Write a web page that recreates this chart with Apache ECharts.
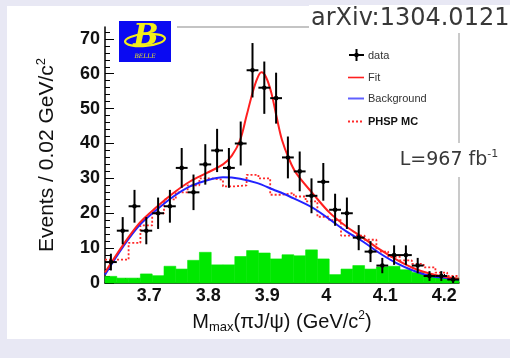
<!DOCTYPE html>
<html>
<head>
<meta charset="utf-8">
<script src="https://cdn.jsdelivr.net/npm/echarts@6/dist/echarts.min.js"></script>
<style>
  html, body { margin: 0; padding: 0; background: #e8e8f4; }
  #panel { position: absolute; left: 7px; top: 6px; width: 503px; height: 333px; background: #fff; }
  #chart { position: absolute; left: 0; top: 0; width: 510px; height: 358px; }
</style>
</head>
<body>
<div id="panel"></div>
<div id="chart"></div>
<script>
// bin width of the histogram (GeV/c^2)
const binWidth = 0.02

const binCenters = [3.635, 3.655, 3.675, 3.695, 3.715, 3.735, 3.755, 3.775, 3.795, 3.815,
  3.835, 3.855, 3.875, 3.895, 3.915, 3.935, 3.955, 3.975, 3.995, 4.015,
  4.035, 4.055, 4.075, 4.095, 4.115, 4.135, 4.155, 4.175, 4.195, 4.215]

const dataCounts = [6, 15, 22, 15, 20, 22, 33, 26, 34, 38,
  33, 40, 61, 56, 53, 36, 32, 25, 29, 21,
  20, 13, 9, 5, 8, 8, 5, 2, 2, 1]

const dataErrors = [2.4, 3.9, 4.7, 3.9, 4.5, 4.7, 5.7, 5.1, 5.8, 6.2,
  5.7, 6.3, 7.8, 7.5, 7.3, 6.0, 5.7, 5.0, 5.4, 4.6,
  4.5, 3.6, 3.0, 2.2, 2.8, 2.8, 2.2, 1.4, 1.4, 1.0]

// green filled histogram (sideband)
const sidebandCounts = [1.9, 1.4, 1.4, 2.6, 2.1, 4.8, 4.0, 6.5, 8.8, 5.2,
  5.2, 7.6, 9.3, 8.6, 6.9, 8.1, 7.8, 9.5, 6.9, 2.4,
  4.0, 5.0, 4.0, 4.6, 4.8, 3.8, 3.0, 2.4, 1.9, 1.4]

// dotted red histogram
const phspCounts = [6.7, 6.7, 11.5, 16.5, 20, 24, 26, 28, 30, 29.6,
  27.7, 28, 31, 30, 25.3, 25.8, 24.8, 23.4, 19, 18,
  13.6, 13.6, 12.4, 9, 7.5, 6.5, 5.5, 4.5, 3, 2]

const fitX = [3.625, 3.656, 3.684, 3.7125, 3.741, 3.769, 3.797, 3.825, 3.840, 3.854,
  3.865, 3.875, 3.883, 3.890, 3.898, 3.907, 3.916, 3.925, 3.937, 3.949,
  3.978, 4.006, 4.034, 4.062, 4.090, 4.119, 4.147, 4.175, 4.203, 4.225]
const fitY = [3.0, 11, 17.3, 21.8, 25.8, 29.1, 31.5, 34.0, 36.5, 41,
  48, 54.5, 58.6, 60.4, 59, 54.5, 47.5, 41, 35.5, 31.5,
  25.5, 20.1, 16.2, 13.0, 9.7, 6.7, 4.3, 2.7, 1.7, 1.2]

const bkgX = [3.625, 3.656, 3.684, 3.7125, 3.741, 3.769, 3.797, 3.825, 3.854, 3.882,
  3.910, 3.938, 3.978, 4.006, 4.034, 4.062, 4.090, 4.119, 4.147, 4.175,
  4.203, 4.225]
const bkgY = [2.4, 10.5, 16.7, 21, 24.8, 27.7, 29.4, 30.3, 29.9, 28.7,
  26.8, 24.8, 21.5, 18.2, 14.8, 11.9, 8.6, 5.7, 3.6, 2.1,
  1.4, 1.0]

const xTickLabels = [3.7, 3.8, 3.9, 4.0, 4.1, 4.2]
const yTickLabels = [0, 10, 20, 30, 40, 50, 60, 70]
const xMinorTicks = Array.from({ length: 30 }, (_, i) => +(3.64 + i * 0.02).toFixed(2))
const yMinorTicks = Array.from({ length: 37 }, (_, i) => i * 2)

const xMin = 3.625
const xMax = 4.225
const yMax = 73.4

const half = binWidth / 2
const font = 'Liberation Sans'

const chart = echarts.init(document.getElementById('chart'), null, { renderer: 'canvas' })

function renderPoint(params, api) {
  const x = api.value(0)
  const y = api.value(1)
  const e = api.value(2)
  const c = api.coord([x, y])
  const t = api.coord([x, y + e])
  const b = api.coord([x, Math.max(0, y - e)])
  const l = api.coord([x - half, y])
  const r = api.coord([x + half, y])
  const style = { stroke: '#000', lineWidth: 2 }
  return {
    type: 'group',
    children: [
      { type: 'line', shape: { x1: c[0], y1: t[1], x2: c[0], y2: b[1] }, style },
      { type: 'line', shape: { x1: l[0], y1: c[1], x2: r[0], y2: c[1] }, style },
      { type: 'circle', shape: { cx: c[0], cy: c[1], r: 2.3 }, style: { fill: '#000' } }
    ]
  }
}

function renderBin(params, api) {
  const x = api.value(0)
  const v = api.value(1)
  const p0 = api.coord([x - half, v])
  const p1 = api.coord([x + half, 0])
  return {
    type: 'rect',
    shape: { x: p0[0], y: p0[1], width: p1[0] - p0[0], height: p1[1] - p0[1] },
    style: { fill: '#00e800', stroke: '#00e800', lineWidth: 0.6 }
  }
}

// step histogram: left edge of each bin, plus closing right edge
const phspSteps = binCenters.map((x, i) => [x - half, phspCounts[i]])
phspSteps.push([binCenters[binCenters.length - 1] + half, phspCounts[phspCounts.length - 1]])

const axisFont = { color: '#111', fontFamily: font, fontWeight: 'bold', fontSize: 18 }

const option = {
  animation: false,
  grid: {
    left: 105, right: 51, top: 27, bottom: 75,
    containLabel: false,
    outerBoundsMode: 'none'
  },
  xAxis: [
    {
      type: 'value', min: xMin, max: xMax, position: 'bottom',
      axisLine: { show: true, lineStyle: { color: '#000', width: 1.5 } },
      axisTick: { show: true, inside: true, length: 9, customValues: xTickLabels, lineStyle: { color: '#000', width: 1 } },
      axisLabel: {
        show: true, customValues: xTickLabels, margin: 4, ...axisFont,
        formatter: v => String(+v.toFixed(1))
      },
      splitLine: { show: false },
      name: '{a|M}{b|max}{a|(\u03c0J/\u03c8) (GeV/c}{c|2}{a|)}',
      nameLocation: 'middle',
      nameGap: 27,
      nameTextStyle: {
        rich: {
          a: { fontFamily: font, fontSize: 20, color: '#111', lineHeight: 24 },
          b: { fontFamily: font, fontSize: 13, color: '#111', lineHeight: 24, verticalAlign: 'bottom' },
          c: { fontFamily: font, fontSize: 12, color: '#111', lineHeight: 12, verticalAlign: 'top' }
        }
      }
    },
    {
      type: 'value', min: xMin, max: xMax, position: 'bottom',
      axisLine: { show: false },
      axisTick: { show: true, inside: true, length: 5, customValues: xMinorTicks, lineStyle: { color: '#000', width: 1 } },
      axisLabel: { show: false },
      splitLine: { show: false }
    }
  ],
  yAxis: [
    {
      type: 'value', min: 0, max: yMax, position: 'left',
      axisLine: { show: true, lineStyle: { color: '#000', width: 1.5 } },
      axisTick: { show: true, inside: true, length: 9, customValues: yTickLabels, lineStyle: { color: '#000', width: 1 } },
      axisLabel: { show: true, customValues: yTickLabels, margin: 5, ...axisFont },
      splitLine: { show: false },
      name: '{a|Events / 0.02 GeV/c}{c|2}',
      nameLocation: 'middle',
      nameRotate: 90,
      nameGap: 45,
      nameTextStyle: {
        rich: {
          a: { fontFamily: font, fontSize: 21, color: '#111', lineHeight: 25 },
          c: { fontFamily: font, fontSize: 13, color: '#111', lineHeight: 13, verticalAlign: 'top' }
        }
      }
    },
    {
      type: 'value', min: 0, max: yMax, position: 'left',
      axisLine: { show: false },
      axisTick: { show: true, inside: true, length: 5, customValues: yMinorTicks, lineStyle: { color: '#000', width: 1 } },
      axisLabel: { show: false },
      splitLine: { show: false }
    }
  ],
  series: [
    {
      name: 'sideband',
      type: 'custom',
      renderItem: renderBin,
      data: binCenters.map((x, i) => [x, sidebandCounts[i]]),
      z: 1
    },
    {
      name: 'PHSP MC',
      type: 'line',
      step: 'end',
      symbol: 'none',
      data: phspSteps,
      lineStyle: { color: '#ff2a2a', width: 1.8, type: [2, 2] },
      z: 2
    },
    {
      name: 'Background',
      type: 'line',
      smooth: 0.35,
      symbol: 'none',
      data: bkgX.map((x, i) => [x, bkgY[i]]),
      lineStyle: { color: '#2222ff', width: 2 },
      z: 3
    },
    {
      name: 'Fit',
      type: 'line',
      smooth: 0.35,
      symbol: 'none',
      data: fitX.map((x, i) => [x, fitY[i]]),
      lineStyle: { color: '#ff1f1f', width: 2 },
      z: 4
    },
    {
      name: 'data',
      type: 'custom',
      renderItem: renderPoint,
      data: binCenters.map((x, i) => [x, dataCounts[i], dataErrors[i]]),
      z: 5
    }
  ],
  graphic: [
    // frame lines (top and right), light gray
    { type: 'line', shape: { x1: 177, y1: 27, x2: 309, y2: 27 }, style: { stroke: '#b0b0b0', lineWidth: 1.5 }, z: 0 },
    { type: 'line', shape: { x1: 459, y1: 30, x2: 459, y2: 283 }, style: { stroke: '#b8b8b8', lineWidth: 1.5 }, z: 0 },
    // Belle logo
    { type: 'rect', shape: { x: 119, y: 21, width: 52, height: 41 }, style: { fill: '#0a0af2' }, z: 10 },
    { type: 'ellipse', shape: { cx: 145, cy: 40, rx: 20, ry: 6 }, rotation: 0.08, originX: 145, originY: 40,
      style: { fill: 'none', stroke: '#f2ee1a', lineWidth: 2.2 }, z: 11 },
    { type: 'text', x: 146, y: 37, style: { text: 'B', font: 'italic bold 30px "DejaVu Serif"', fill: '#f2ee1a', align: 'center', verticalAlign: 'middle' }, z: 12 },
    { type: 'text', x: 145, y: 56, style: { text: 'BELLE', font: 'italic 6px "DejaVu Serif"', fill: '#f2ee1a', align: 'center', verticalAlign: 'middle' }, z: 12 },
    // arXiv tag
    { type: 'text', x: 309, y: 19, style: { text: 'arXiv:1304.0121', font: '24px "DejaVu Sans"', fill: '#383838', align: 'left', verticalAlign: 'middle', backgroundColor: '#fff', padding: [2, 2] }, z: 10 },
    // luminosity
    { type: 'text', x: 449, y: 160, style: {
        text: '{m|L=967 fb}{s|-1}',
        rich: {
          m: { font: '19px "DejaVu Sans"', fill: '#383838', lineHeight: 22 },
          s: { font: '11px "DejaVu Sans"', fill: '#383838', lineHeight: 11, verticalAlign: 'top' }
        },
        align: 'center', verticalAlign: 'middle', backgroundColor: '#fff', padding: [6, 6]
      }, z: 10 },
    // legend
    { type: 'line', shape: { x1: 349, y1: 55, x2: 364, y2: 55 }, style: { stroke: '#000', lineWidth: 2 }, z: 10 },
    { type: 'line', shape: { x1: 356.5, y1: 49, x2: 356.5, y2: 61 }, style: { stroke: '#000', lineWidth: 2 }, z: 10 },
    { type: 'circle', shape: { cx: 356.5, cy: 55, r: 2.3 }, style: { fill: '#000' }, z: 10 },
    { type: 'text', x: 368, y: 56, style: { text: 'data', font: '11px "Liberation Sans"', fill: '#333', verticalAlign: 'middle' }, z: 10 },
    { type: 'line', shape: { x1: 348, y1: 77.5, x2: 364, y2: 77.5 }, style: { stroke: '#ff1f1f', lineWidth: 1.6 }, z: 10 },
    { type: 'text', x: 368, y: 78, style: { text: 'Fit', font: '11px "Liberation Sans"', fill: '#333', verticalAlign: 'middle' }, z: 10 },
    { type: 'line', shape: { x1: 348, y1: 98.5, x2: 364, y2: 98.5 }, style: { stroke: '#6060ff', lineWidth: 2 }, z: 10 },
    { type: 'text', x: 368, y: 99, style: { text: 'Background', font: '11px "Liberation Sans"', fill: '#333', verticalAlign: 'middle' }, z: 10 },
    { type: 'line', shape: { x1: 348, y1: 121.5, x2: 364, y2: 121.5 }, style: { stroke: '#ff2a2a', lineWidth: 1.8, lineDash: [2, 2] }, z: 10 },
    { type: 'text', x: 368, y: 122, style: { text: 'PHSP MC', font: 'bold 11px "Liberation Sans"', fill: '#111', verticalAlign: 'middle' }, z: 10 }
  ]
}

chart.setOption(option)
</script>
</body>
</html>
